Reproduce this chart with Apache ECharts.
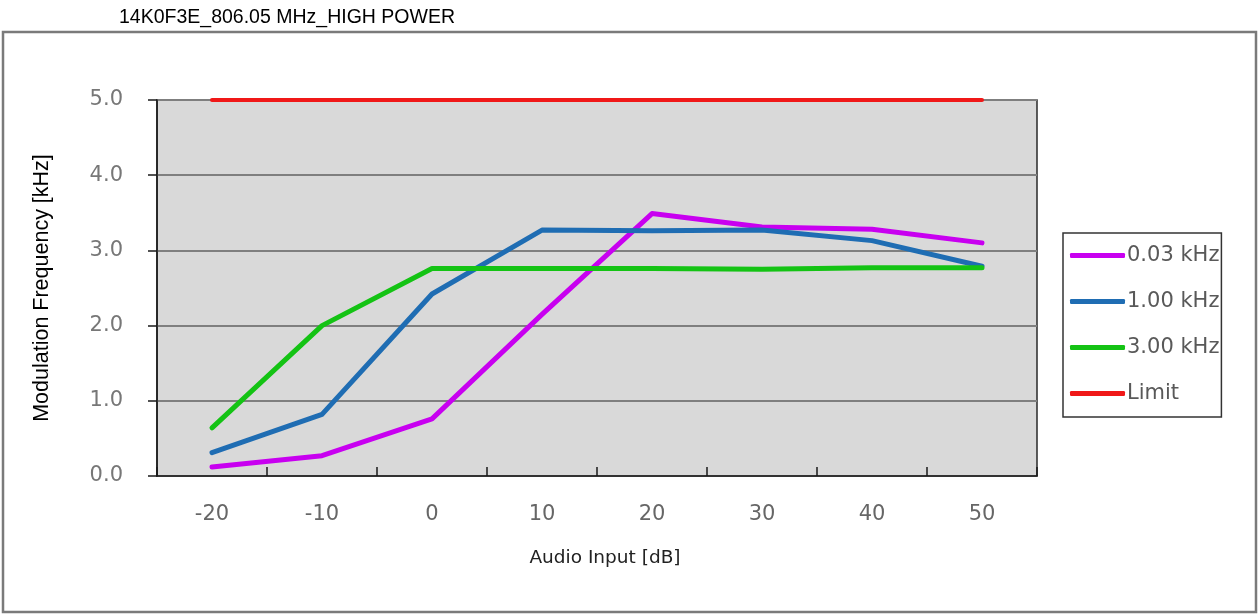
<!DOCTYPE html>
<html>
<head>
<meta charset="utf-8">
<title>14K0F3E_806.05 MHz_HIGH POWER</title>
<script src="https://cdn.jsdelivr.net/npm/echarts@6/dist/echarts.min.js"></script>
<style>
  html, body { margin: 0; padding: 0; background: #fff; }
  #main { width: 1258px; height: 615px; }
</style>
</head>
<body>
<div id="main"></div>
<script>
/* eslint-disable no-undef */
// 数据
var audioInput = ['-20', '-10', '0', '10', '20', '30', '40', '50']
var mod003 = [0.12, 0.27, 0.76, 2.15, 3.49, 3.31, 3.28, 3.10]
var mod100 = [0.31, 0.82, 2.42, 3.27, 3.26, 3.27, 3.13, 2.79]
var mod300 = [0.64, 2.0, 2.76, 2.76, 2.76, 2.75, 2.77, 2.77]
var limit = [5, 5, 5, 5, 5, 5, 5, 5]

var labelFont = '"DejaVu Sans", "Noto Sans", sans-serif'

function line (name, data, color, width) {
  return {
    name: name,
    type: 'line',
    data: data,
    symbol: 'none',
    color: color,
    lineStyle: { color: color, width: width, cap: 'round', join: 'round' }
  }
}

var option = {
  animation: false,
  backgroundColor: '#fff',
  title: {
    text: '14K0F3E_806.05 MHz_HIGH POWER',
    left: 119,
    top: 8,
    padding: 0,
    textStyle: {
      fontFamily: '"Liberation Sans", Arial, sans-serif',
      fontSize: 19.5,
      fontWeight: 'normal',
      color: '#000'
    }
  },
  graphic: [{
    type: 'rect',
    shape: { x: 3, y: 32, width: 1253, height: 580 },
    style: { fill: null, stroke: '#7a7a7a', lineWidth: 2.5 },
    z: -10
  }],
  grid: {
    left: 157,
    right: 221,
    top: 100,
    bottom: 139,
    show: true,
    backgroundColor: '#d9d9d9',
    borderColor: '#2a2a2a',
    borderWidth: 1.5
  },
  legend: {
    orient: 'vertical',
    left: 1063,
    top: 233,
    padding: [12, 2, 13, 7],
    borderColor: '#333',
    borderWidth: 1.5,
    icon: 'roundRect',
    itemWidth: 55,
    itemHeight: 5,
    itemGap: 25,
    data: ['0.03 kHz', '1.00 kHz', '3.00 kHz', 'Limit'],
    textStyle: {
      fontFamily: labelFont,
      fontSize: 21,
      color: '#595959',
      padding: [0, 0, 0, -3]
    }
  },
  xAxis: {
    type: 'category',
    data: audioInput,
    boundaryGap: true,
    name: 'Audio Input [dB]',
    nameLocation: 'middle',
    nameGap: 73,
    nameTextStyle: {
      fontFamily: labelFont,
      fontSize: 18.5,
      color: '#222',
      padding: [0, 0, 0, 16]
    },
    axisLine: { show: true, lineStyle: { color: '#1a1a1a', width: 1.5 } },
    axisTick: { show: true, inside: true, length: 9, lineStyle: { color: '#1a1a1a', width: 1.5 } },
    axisLabel: {
      margin: 28,
      fontFamily: labelFont,
      fontSize: 21,
      color: '#666'
    },
    splitLine: { show: false }
  },
  yAxis: {
    type: 'value',
    min: 0,
    max: 5,
    interval: 1,
    name: 'Modulation Frequency [kHz]',
    nameLocation: 'middle',
    nameGap: 104,
    nameTextStyle: {
      fontFamily: '"Liberation Sans", Arial, sans-serif',
      fontSize: 21.5,
      color: '#000'
    },
    axisLine: { show: true, lineStyle: { color: '#1a1a1a', width: 1.5 } },
    axisTick: { show: true, length: 9, lineStyle: { color: '#1a1a1a', width: 1.5 } },
    axisLabel: {
      margin: 34,
      fontFamily: labelFont,
      fontSize: 21,
      color: '#777',
      formatter: function (v) { return v.toFixed(1) }
    },
    splitLine: { show: true, lineStyle: { color: '#7f7f7f', width: 2 } }
  },
  series: [
    line('0.03 kHz', mod003, '#c800f0', 5),
    line('1.00 kHz', mod100, '#1f6db3', 5),
    line('3.00 kHz', mod300, '#14c314', 5),
    line('Limit', limit, '#f01818', 4)
  ]
}

var chart = echarts.init(document.getElementById('main'))
chart.setOption(option)
</script>
</body>
</html>
